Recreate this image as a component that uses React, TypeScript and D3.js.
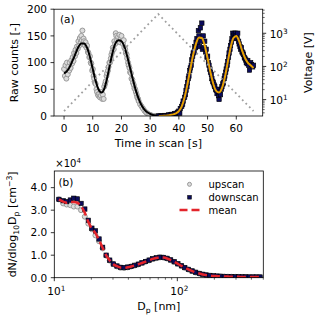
import React, { useEffect, useRef } from 'react';
import * as d3 from 'd3';

// ---- panel (a): raw counts over the scan ----
const upTime = [0, 0.3, 0.5, 0.8, 1, 1.3, 1.5, 1.8, 2, 2.3, 2.5, 2.8, 3, 3.3, 3.5, 3.8, 4, 4.3, 4.5, 4.8, 5, 5.3, 5.5, 5.8, 6, 6.2, 6.4, 6.6, 6.8, 7, 7.3, 7.5, 7.8, 8, 8.3, 8.5, 8.8, 9, 9.3, 9.5, 9.8, 10, 10.3, 10.5, 10.8, 11, 11.3, 11.5, 11.8, 12, 12.3, 12.5, 12.8, 13, 13.3, 13.5, 13.8, 14, 14.3, 14.5, 14.8, 15, 15.3, 15.5, 15.8, 16, 16.3, 16.5, 16.8, 17, 17.3, 17.5, 17.8, 18, 18.2, 18.5, 18.8, 19, 19.3, 19.5, 19.8, 20, 20.3, 20.5, 20.8, 21, 21.3, 21.5, 21.8, 22, 22.3, 22.5, 22.8, 23, 23.3, 23.5, 23.8, 24, 24.3, 24.5, 24.8, 25, 25.3, 25.5, 25.8, 26, 26.5, 27, 27.5, 28, 28.5, 29, 29.5, 30, 30.5, 31, 31.5, 32, 32.5, 33];
const upCounts = [88, 75, 95, 70, 100, 78, 92, 85, 100, 90, 104, 98, 110, 103, 118, 112, 124, 118, 130, 126, 140, 132, 146, 138, 150, 142, 160, 135, 145, 140, 132, 138, 128, 132, 120, 118, 110, 112, 100, 98, 85, 88, 75, 70, 62, 60, 50, 45, 40, 38, 42, 35, 38, 45, 32, 40, 32, 55, 60, 65, 75, 80, 85, 92, 100, 100, 108, 115, 120, 128, 125, 140, 135, 155, 150, 142, 148, 140, 152, 138, 145, 150, 140, 135, 142, 128, 125, 118, 115, 108, 100, 95, 90, 82, 80, 70, 68, 62, 58, 52, 50, 45, 40, 35, 32, 28, 22, 18, 14, 10, 7, 5, 3, 2, 1, 0, 0, 0, 0, 0];

const downTime = [33, 33.5, 34, 34.5, 35, 35.5, 36, 36.5, 37, 37.5, 38, 38.5, 39, 39.5, 40, 40.3, 40.5, 41, 41.3, 41.5, 42, 42.3, 42.5, 42.8, 43, 43.3, 43.5, 43.8, 44, 44.3, 44.5, 44.8, 45, 45.3, 45.5, 45.8, 46, 46.3, 46.5, 46.8, 47, 47.2, 47.5, 47.8, 48, 48.2, 48.5, 48.8, 49, 49.3, 49.5, 49.8, 50, 50.3, 50.5, 50.8, 51, 51.3, 51.5, 51.8, 52, 52.3, 52.5, 52.8, 53, 53.3, 53.5, 53.8, 54, 54.2, 54.5, 54.8, 55, 55.3, 55.5, 55.8, 56, 56.3, 56.5, 56.8, 57, 57.3, 57.5, 57.8, 58, 58.3, 58.5, 58.8, 59, 59.3, 59.5, 59.8, 60, 60.3, 60.5, 60.8, 61, 61.3, 61.5, 61.8, 62, 62.3, 62.5, 62.8, 63, 63.3, 63.5, 63.8, 64, 64.3, 64.6, 65, 65.3, 65.7, 66];
const downCounts = [0, 0, 0, 0, 1, 1, 1, 2, 2, 3, 3, 4, 5, 7, 9, 5, 14, 18, 22, 28, 35, 40, 48, 55, 62, 70, 75, 85, 90, 95, 105, 112, 118, 120, 130, 128, 138, 145, 135, 160, 150, 130, 165, 140, 174, 125, 150, 128, 140, 120, 125, 110, 112, 100, 95, 88, 82, 78, 70, 65, 62, 58, 55, 50, 48, 42, 50, 38, 31, 45, 40, 50, 55, 60, 62, 70, 75, 82, 88, 95, 102, 110, 118, 125, 132, 138, 145, 155, 150, 155, 145, 155, 150, 145, 155, 140, 135, 130, 125, 128, 120, 118, 115, 110, 108, 105, 100, 98, 104, 95, 86, 100, 96, 92, 95];

const fitUpTime = [0, 1, 2, 3, 4, 5, 6, 7, 8, 9, 10, 11, 12, 13, 14, 15, 16, 17, 18, 19, 20, 21, 22, 23, 24, 25, 26, 27, 28, 29, 30, 31, 32, 33];
const fitUpCounts = [80, 84, 92, 104, 117, 129, 136, 136, 128, 111, 88, 66, 50, 44, 51, 71, 97, 121, 137, 142, 140, 130, 112, 90, 68, 48, 32, 20, 12, 7, 4, 2, 1, 0];
const fitDownTime = [33, 34, 35, 36, 37, 38, 39, 40, 41, 42, 43, 44, 45, 46, 47, 48, 49, 50, 51, 52, 53, 54, 55, 56, 57, 58, 59, 60, 61, 62, 63, 64, 65, 66];
const fitDownCounts = [0, 0, 0.5, 1, 2, 3, 5, 9, 18, 35, 60, 88, 115, 136, 147, 146, 132, 108, 82, 60, 47, 44, 52, 72, 100, 128, 146, 150, 140, 123, 109, 100, 95, 90];

const voltTime = [0, 32.8, 66];
const voltValues = [4.5, 3800, 4.5];

const timeTicks = [0, 10, 20, 30, 40, 50, 60];
const countTicks = [0, 50, 100, 150, 200];
const voltTicks = [10, 100, 1000];

// ---- panel (b): size distribution ----
const diameters = [10.9, 11.8, 12.6, 13.5, 14.4, 15.4, 16.5, 17.7, 18.9, 20.2, 21.6, 23.1, 24.7, 26.4, 28.2, 30.2, 32.3, 34.5, 36.9, 39.5, 42.2, 45.1, 48.2, 51.6, 55.2, 59, 63.1, 67.5, 72.2, 77.2, 82.5, 88.2, 94.3, 101, 108, 115, 123, 132, 141, 151, 161, 172, 184, 197, 211, 225, 241, 258, 276, 295, 315, 337, 360, 385, 412, 440, 470];
const upscanN = [3.48, 3.30, 3.25, 3.22, 3.16, 3.16, 3.00, 2.71, 2.40, 2.15, 1.88, 1.62, 1.30, 0.98, 0.76, 0.60, 0.50, 0.44, 0.43, 0.46, 0.50, 0.54, 0.59, 0.65, 0.71, 0.77, 0.83, 0.87, 0.90, 0.89, 0.85, 0.78, 0.70, 0.61, 0.52, 0.44, 0.36, 0.29, 0.23, 0.18, 0.14, 0.11, 0.09, 0.075, 0.065, 0.06, 0.05, 0.045, 0.04, 0.04, 0.035, 0.035, 0.03, 0.03, 0.03, 0.03, 0.025];
const downscanN = [3.48, 3.42, 3.38, 3.45, 3.53, 3.50, 3.30, 3.05, 2.55, 2.20, 2.08, 1.72, 1.35, 1.00, 0.78, 0.61, 0.52, 0.46, 0.45, 0.47, 0.50, 0.55, 0.60, 0.66, 0.72, 0.78, 0.84, 0.88, 0.91, 0.90, 0.86, 0.79, 0.71, 0.62, 0.53, 0.45, 0.37, 0.30, 0.24, 0.19, 0.15, 0.12, 0.10, 0.08, 0.07, 0.06, 0.055, 0.05, 0.045, 0.04, 0.04, 0.035, 0.035, 0.03, 0.03, 0.03, 0.03];
const meanN = [3.48, 3.38, 3.33, 3.36, 3.36, 3.33, 3.18, 2.88, 2.48, 2.18, 1.98, 1.67, 1.33, 0.99, 0.77, 0.60, 0.51, 0.45, 0.44, 0.465, 0.50, 0.545, 0.595, 0.655, 0.715, 0.775, 0.835, 0.875, 0.905, 0.895, 0.855, 0.785, 0.705, 0.615, 0.525, 0.445, 0.365, 0.295, 0.235, 0.185, 0.145, 0.115, 0.095, 0.078, 0.068, 0.06, 0.053, 0.048, 0.043, 0.04, 0.038, 0.035, 0.033, 0.03, 0.03, 0.03, 0.028];

const concTicks = [0, 1, 2, 3, 4];
const diamTicks = [10, 100];
const legendNames = ['upscan', 'downscan', 'mean'];

const FONT = 'DejaVu Sans';
const GREY_EDGE = '#999999';
const GREY_FILL = '#dcdcdc';
const NAVY = '#0b0b5c';
const ORANGE = '#e6a000';
const RED = '#e3242b';

type Part = { t: string; s?: 'sub' | 'sup' };

// writes text with sub/superscripts into a <text> selection
function richText(sel: any, parts: Part[], size: number) {
    let shift = 0;
    parts.forEach(p => {
        const target = p.s === 'sub' ? size * 0.3 : p.s === 'sup' ? -size * 0.4 : 0;
        sel.append('tspan')
            .attr('dy', target - shift)
            .style('font-size', p.s ? `${size * 0.7}px` : `${size}px`)
            .text(p.t);
        shift = target;
    });
}

export default function App() {
    const ref = useRef<SVGSVGElement>(null);

    useEffect(() => {
        const svg = d3.select(ref.current);
        svg.selectAll('*').remove();

        // ---------------- panel (a) ----------------
        const ax = { left: 54, right: 262.7, top: 9.2, bottom: 116 };
        const x = d3.scaleLinear().domain([-3.5, 69.2]).range([ax.left, ax.right]);
        const y = d3.scaleLinear().domain([0, 200]).range([ax.bottom, ax.top]);
        const yV = d3.scaleLog().domain([Math.pow(10, 0.506), Math.pow(10, 3.726)]).range([ax.bottom, ax.top]);

        const a = svg.append('g');
        const clipA = svg.append('clipPath').attr('id', 'clipA');
        clipA.append('rect').attr('x', ax.left).attr('y', ax.top)
            .attr('width', ax.right - ax.left).attr('height', ax.bottom - ax.top);
        const plotA = a.append('g').attr('clip-path', 'url(#clipA)');

        plotA.selectAll('circle.up')
            .data(upTime.map((t, i) => [t, upCounts[i]]))
            .join('circle')
            .attr('cx', d => x(d[0]))
            .attr('cy', d => y(d[1]))
            .attr('r', 2.5)
            .attr('fill', GREY_FILL)
            .attr('stroke', GREY_EDGE)
            .attr('stroke-width', 1);

        const lineA = d3.line<number[]>()
            .curve(d3.curveMonotoneX)
            .x(d => x(d[0]))
            .y(d => y(d[1]));

        plotA.append('path')
            .datum(fitUpTime.map((t, i) => [t, fitUpCounts[i]]))
            .attr('d', lineA)
            .attr('fill', 'none')
            .attr('stroke', '#000')
            .attr('stroke-width', 2);

        plotA.selectAll('rect.down')
            .data(downTime.map((t, i) => [t, downCounts[i]]))
            .join('rect')
            .attr('x', d => x(d[0]) - 2.2)
            .attr('y', d => y(d[1]) - 2.2)
            .attr('width', 4.4)
            .attr('height', 4.4)
            .attr('fill', NAVY)
            .attr('stroke', '#000')
            .attr('stroke-width', 0.6);

        plotA.append('path')
            .datum(fitDownTime.map((t, i) => [t, fitDownCounts[i]]))
            .attr('d', lineA)
            .attr('fill', 'none')
            .attr('stroke', ORANGE)
            .attr('stroke-width', 2);

        plotA.append('path')
            .datum(voltTime.map((t, i) => [t, voltValues[i]]))
            .attr('d', d3.line<number[]>().x(d => x(d[0])).y(d => yV(d[1])))
            .attr('fill', 'none')
            .attr('stroke', '#a0a0a0')
            .attr('stroke-width', 1.8)
            .attr('stroke-dasharray', '1.8,3.2');

        a.append('rect')
            .attr('x', ax.left).attr('y', ax.top)
            .attr('width', ax.right - ax.left).attr('height', ax.bottom - ax.top)
            .attr('fill', 'none').attr('stroke', '#000').attr('stroke-width', 0.8);

        // bottom ticks
        timeTicks.forEach(t => {
            a.append('line').attr('x1', x(t)).attr('x2', x(t))
                .attr('y1', ax.bottom).attr('y2', ax.bottom + 3.5)
                .attr('stroke', '#000').attr('stroke-width', 0.8);
            a.append('text').attr('x', x(t)).attr('y', ax.bottom + 16)
                .attr('text-anchor', 'middle')
                .style('font-family', FONT).style('font-size', '10.5px')
                .text(t);
        });
        // left ticks
        countTicks.forEach(c => {
            a.append('line').attr('x1', ax.left - 3.5).attr('x2', ax.left)
                .attr('y1', y(c)).attr('y2', y(c))
                .attr('stroke', '#000').attr('stroke-width', 0.8);
            a.append('text').attr('x', ax.left - 7).attr('y', y(c) + 3.8)
                .attr('text-anchor', 'end')
                .style('font-family', FONT).style('font-size', '10.5px')
                .text(c);
        });
        // right log ticks
        const [vLo, vHi] = yV.domain();
        [1, 10, 100, 1000].forEach(dec => {
            d3.range(1, 10).forEach(m => {
                const v = dec * m;
                if (v < vLo || v > vHi) return;
                const major = m === 1;
                a.append('line').attr('x1', ax.right).attr('x2', ax.right + (major ? 3.5 : 2))
                    .attr('y1', yV(v)).attr('y2', yV(v))
                    .attr('stroke', '#000').attr('stroke-width', major ? 0.8 : 0.6);
            });
        });
        voltTicks.forEach(v => {
            const t = a.append('text').attr('x', ax.right + 7).attr('y', yV(v) + 4.5)
                .style('font-family', FONT);
            richText(t, [{ t: '10' }, { t: String(Math.round(Math.log10(v))), s: 'sup' }], 10.5);
        });

        a.append('text').attr('x', 60).attr('y', 23)
            .style('font-family', FONT).style('font-size', '10.5px').text('(a)');

        a.append('text')
            .attr('transform', `translate(14,${(ax.top + ax.bottom) / 2}) rotate(-90)`)
            .attr('text-anchor', 'middle').attr('dominant-baseline', 'central')
            .style('font-family', FONT).style('font-size', '11px')
            .text('Raw counts [-]');
        a.append('text')
            .attr('transform', `translate(308,${(ax.top + ax.bottom) / 2}) rotate(-90)`)
            .attr('text-anchor', 'middle').attr('dominant-baseline', 'central')
            .style('font-family', FONT).style('font-size', '11px')
            .text('Voltage [V]');
        a.append('text')
            .attr('x', (ax.left + ax.right) / 2).attr('y', 147)
            .attr('text-anchor', 'middle')
            .style('font-family', FONT).style('font-size', '11px')
            .text('Time in scan [s]');

        // ---------------- panel (b) ----------------
        const bx = { left: 54.3, right: 263.3, top: 171, bottom: 277.7 };
        const xD = d3.scaleLog().domain([10, 500]).range([bx.left, bx.right]);
        const yN = d3.scaleLinear().domain([0, 4.74]).range([bx.bottom, bx.top]);

        const b = svg.append('g');
        const clipB = svg.append('clipPath').attr('id', 'clipB');
        clipB.append('rect').attr('x', bx.left).attr('y', bx.top)
            .attr('width', bx.right - bx.left).attr('height', bx.bottom - bx.top);
        const plotB = b.append('g').attr('clip-path', 'url(#clipB)');

        plotB.selectAll('circle.up')
            .data(diameters.map((dp, i) => [dp, upscanN[i]]))
            .join('circle')
            .attr('cx', d => xD(d[0]))
            .attr('cy', d => yN(d[1]))
            .attr('r', 2.5)
            .attr('fill', GREY_FILL)
            .attr('stroke', GREY_EDGE)
            .attr('stroke-width', 1);

        plotB.selectAll('rect.down')
            .data(diameters.map((dp, i) => [dp, downscanN[i]]))
            .join('rect')
            .attr('x', d => xD(d[0]) - 2.2)
            .attr('y', d => yN(d[1]) - 2.2)
            .attr('width', 4.4)
            .attr('height', 4.4)
            .attr('fill', NAVY)
            .attr('stroke', '#000')
            .attr('stroke-width', 0.6);

        plotB.append('path')
            .datum(diameters.map((dp, i) => [dp, meanN[i]]))
            .attr('d', d3.line<number[]>().curve(d3.curveMonotoneX).x(d => xD(d[0])).y(d => yN(d[1])))
            .attr('fill', 'none')
            .attr('stroke', RED)
            .attr('stroke-width', 2.5)
            .attr('stroke-dasharray', '9,4');

        b.append('rect')
            .attr('x', bx.left).attr('y', bx.top)
            .attr('width', bx.right - bx.left).attr('height', bx.bottom - bx.top)
            .attr('fill', 'none').attr('stroke', '#000').attr('stroke-width', 0.8);

        [10, 100].forEach(dec => {
            d3.range(1, 10).forEach(m => {
                const v = dec * m;
                if (v < 10 || v > 500) return;
                const major = m === 1;
                b.append('line').attr('x1', xD(v)).attr('x2', xD(v))
                    .attr('y1', bx.bottom).attr('y2', bx.bottom + (major ? 3.5 : 2))
                    .attr('stroke', '#000').attr('stroke-width', major ? 0.8 : 0.6);
            });
        });
        diamTicks.forEach(v => {
            const t = b.append('text').attr('x', xD(v) - 7).attr('y', bx.bottom + 17)
                .style('font-family', FONT);
            richText(t, [{ t: '10' }, { t: String(Math.round(Math.log10(v))), s: 'sup' }], 10.5);
        });
        concTicks.forEach(c => {
            b.append('line').attr('x1', bx.left - 3.5).attr('x2', bx.left)
                .attr('y1', yN(c)).attr('y2', yN(c))
                .attr('stroke', '#000').attr('stroke-width', 0.8);
            b.append('text').attr('x', bx.left - 7).attr('y', yN(c) + 3.8)
                .attr('text-anchor', 'end')
                .style('font-family', FONT).style('font-size', '10.5px')
                .text(c.toFixed(1));
        });
        const offs = b.append('text').attr('x', bx.left + 1).attr('y', 167).style('font-family', FONT);
        richText(offs, [{ t: '×10' }, { t: '4', s: 'sup' }], 10);

        b.append('text').attr('x', 58.5).attr('y', 185.5)
            .style('font-family', FONT).style('font-size', '10.5px').text('(b)');

        const yl = b.append('text')
            .attr('transform', `translate(16,${(bx.top + bx.bottom) / 2}) rotate(-90)`)
            .attr('text-anchor', 'middle')
            .style('font-family', FONT);
        richText(yl, [{ t: 'dN/dlog' }, { t: '10', s: 'sub' }, { t: 'D' }, { t: 'p', s: 'sub' }, { t: ' [cm' }, { t: '−3', s: 'sup' }, { t: ']' }], 11);

        const xl = b.append('text')
            .attr('x', (bx.left + bx.right) / 2).attr('y', 310)
            .attr('text-anchor', 'middle')
            .style('font-family', FONT);
        richText(xl, [{ t: 'D' }, { t: 'p', s: 'sub' }, { t: ' [nm]' }], 11);

        // legend
        const legY = [184.3, 197.3, 210];
        const lg = b.append('g');
        lg.append('circle').attr('cx', 189.5).attr('cy', legY[0]).attr('r', 2)
            .attr('fill', GREY_FILL).attr('stroke', GREY_EDGE).attr('stroke-width', 1);
        lg.append('rect').attr('x', 189.5 - 1.8).attr('y', legY[1] - 1.8)
            .attr('width', 3.6).attr('height', 3.6)
            .attr('fill', NAVY).attr('stroke', '#000').attr('stroke-width', 0.6);
        lg.append('line').attr('x1', 179.5).attr('x2', 199.5)
            .attr('y1', legY[2]).attr('y2', legY[2])
            .attr('stroke', RED).attr('stroke-width', 2.5).attr('stroke-dasharray', '8,4');
        legendNames.forEach((n, i) => {
            lg.append('text').attr('x', 208.5).attr('y', legY[i] + 3.7)
                .style('font-family', FONT).style('font-size', '10px')
                .text(n);
        });
    }, []);

    return (
        <svg ref={ref} width={320} height={320}
            style={{ position: 'absolute', left: 0, top: 0, background: '#fff' }} />
    );
}
